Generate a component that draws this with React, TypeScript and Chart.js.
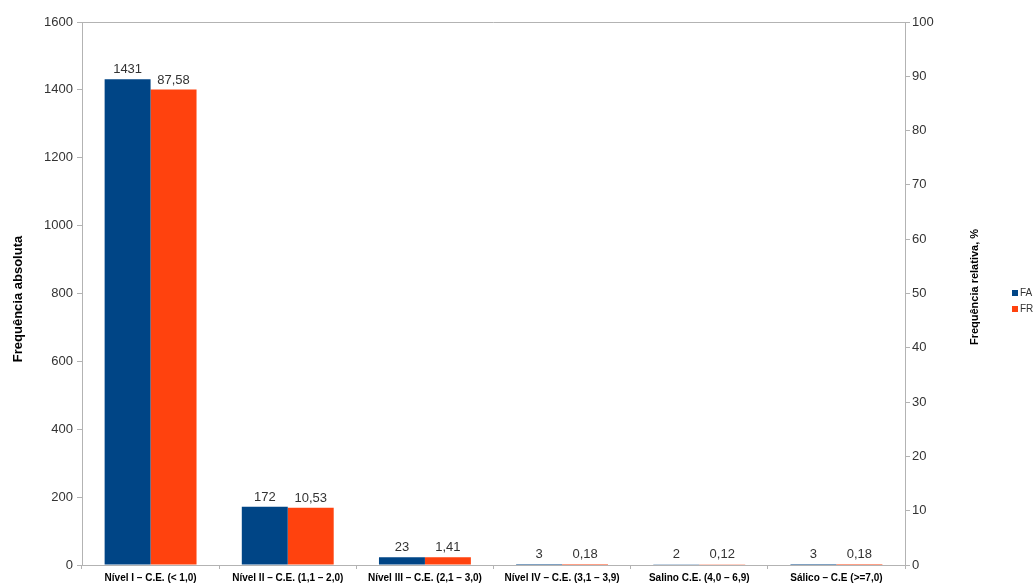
import React, { useEffect, useRef } from "react";
import { Chart, registerables } from "chart.js";

Chart.register(...registerables);

const categories = [
  "Nível I – C.E. (< 1,0)",
  "Nível II – C.E. (1,1 – 2,0)",
  "Nível III – C.E. (2,1 – 3,0)",
  "Nível IV – C.E. (3,1 – 3,9)",
  "Salino C.E. (4,0 – 6,9)",
  "Sálico – C.E (>=7,0)",
];
const faValues = [1431, 172, 23, 3, 2, 3];
const frValues = [87.58, 10.53, 1.41, 0.18, 0.12, 0.18];
const faLabels = ["1431", "172", "23", "3", "2", "3"];
const frLabels = ["87,58", "10,53", "1,41", "0,18", "0,12", "0,18"];
const seriesNames = ["FA", "FR"];
const leftTitle = "Frequência absoluta";
const rightTitle = "Frequência relativa, %";

const BLUE = "#004586";
const ORANGE = "#ff420e";
const AXIS = "#b3b3b3";
const FONT = "'Liberation Sans', Arial, sans-serif";

const overlay = {
  id: "overlay",
  afterDatasetsDraw(chart: any) {
    const ctx = chart.ctx;
    const area = chart.chartArea;
    ctx.save();
    ctx.strokeStyle = AXIS;
    ctx.lineWidth = 1;
    ctx.beginPath();
    ctx.moveTo(area.left, area.top + 0.5);
    ctx.lineTo(area.right, area.top + 0.5);
    ctx.stroke();

    ctx.fillStyle = "#333333";
    ctx.font = `13px ${FONT}`;
    ctx.textAlign = "center";
    ctx.textBaseline = "bottom";
    const labelSets = [faLabels, frLabels];
    chart.data.datasets.forEach((_ds: any, di: number) => {
      const meta = chart.getDatasetMeta(di);
      meta.data.forEach((bar: any, i: number) => {
        ctx.fillText(labelSets[di][i], bar.x, bar.y - 3);
      });
    });

    ctx.fillStyle = "#000000";
    ctx.textBaseline = "middle";
    ctx.font = `bold 13px ${FONT}`;
    ctx.save();
    ctx.translate(18, 299);
    ctx.rotate(-Math.PI / 2);
    ctx.fillText(leftTitle, 0, 0);
    ctx.restore();
    ctx.font = `bold 11px ${FONT}`;
    ctx.save();
    ctx.translate(975, 287);
    ctx.rotate(-Math.PI / 2);
    ctx.fillText(rightTitle, 0, 0);
    ctx.restore();

    const colors = [BLUE, ORANGE];
    ctx.font = `10px ${FONT}`;
    ctx.textAlign = "left";
    seriesNames.forEach((name, i) => {
      const y = 293 + i * 16;
      ctx.fillStyle = colors[i];
      ctx.fillRect(1012, y - 3, 6, 6);
      ctx.fillStyle = "#333333";
      ctx.fillText(name, 1020, y);
    });
    ctx.restore();
  },
};

export default function App() {
  const ref = useRef<HTMLCanvasElement | null>(null);
  useEffect(() => {
    document.body.style.margin = "0";
    const canvas = ref.current;
    if (!canvas) return;
    const chart = new Chart(canvas, {
      type: "bar",
      data: {
        labels: categories,
        datasets: [
          {
            label: seriesNames[0],
            data: faValues,
            backgroundColor: BLUE,
            yAxisID: "y",
            categoryPercentage: 0.67,
            barPercentage: 1.0,
          },
          {
            label: seriesNames[1],
            data: frValues,
            backgroundColor: ORANGE,
            yAxisID: "y1",
            categoryPercentage: 0.67,
            barPercentage: 1.0,
          },
        ],
      },
      options: {
        responsive: false,
        animation: false,
        layout: { padding: { top: 22, left: 0, right: 0, bottom: 0 } },
        plugins: {
          legend: { display: false },
          tooltip: { enabled: false },
        },
        scales: {
          x: {
            grid: {
              display: true,
              offset: true,
              drawOnChartArea: false,
              drawTicks: true,
              tickLength: 4,
              color: AXIS,
            },
            border: { display: true, color: AXIS },
            ticks: {
              color: "#000000",
              font: { family: FONT, size: 10, weight: "bold" },
              maxRotation: 0,
              autoSkip: false,
              padding: 3,
            },
            afterFit(scale: any) {
              scale.height = 22;
            },
          },
          y: {
            position: "left",
            min: 0,
            max: 1600,
            ticks: {
              stepSize: 200,
              color: "#333333",
              font: { family: FONT, size: 13 },
              padding: 4,
              callback: (v: any) => String(v),
            },
            grid: {
              display: true,
              drawOnChartArea: false,
              drawTicks: true,
              tickLength: 5,
              color: AXIS,
            },
            border: { display: true, color: AXIS },
            afterFit(scale: any) {
              scale.width = 82;
            },
          },
          y1: {
            position: "right",
            min: 0,
            max: 100,
            ticks: {
              stepSize: 10,
              color: "#333333",
              font: { family: FONT, size: 13 },
              padding: 2,
              callback: (v: any) => String(v),
            },
            grid: {
              display: true,
              drawOnChartArea: false,
              drawTicks: true,
              tickLength: 5,
              color: AXIS,
            },
            border: { display: true, color: AXIS },
            afterFit(scale: any) {
              scale.width = 130;
            },
          },
        },
      },
      plugins: [overlay],
    });
    return () => chart.destroy();
  }, []);
  return (
    <div style={{ width: 1035, height: 587, background: "#ffffff" }}>
      <canvas ref={ref} width={1035} height={587} />
    </div>
  );
}
